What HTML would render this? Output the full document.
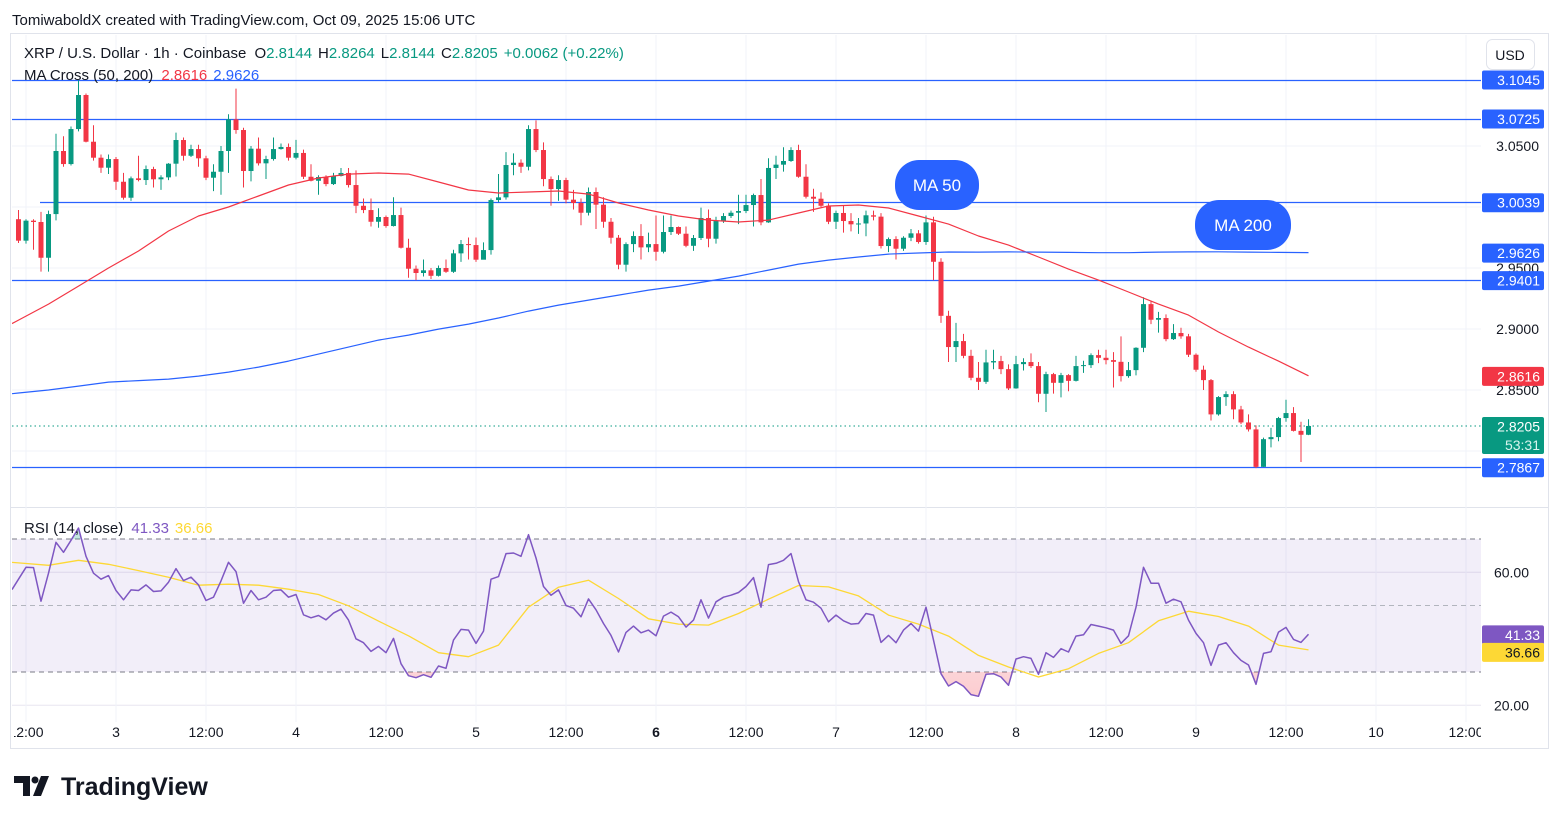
<!DOCTYPE html>
<html><head><meta charset="utf-8"><style>
html,body{margin:0;padding:0;background:#fff;}
svg{display:block;font-family:"Liberation Sans",sans-serif;}
</style></head><body>
<svg id="chart" width="1561" height="824" viewBox="0 0 1561 824">
<defs>
<clipPath id="pc"><rect x="12" y="35" width="1469" height="471"/></clipPath>
<clipPath id="rc"><rect x="12" y="508" width="1469" height="214"/></clipPath>
<clipPath id="below30"><rect x="12" y="672" width="1469" height="50"/></clipPath>
<clipPath id="above70"><rect x="12" y="508" width="1469" height="31"/></clipPath>
<linearGradient id="pink" x1="0" y1="0" x2="0" y2="1"><stop offset="0" stop-color="#f23645" stop-opacity="0"/><stop offset="1" stop-color="#f23645" stop-opacity="0.25"/></linearGradient>
<linearGradient id="greenf" x1="0" y1="1" x2="0" y2="0"><stop offset="0" stop-color="#089981" stop-opacity="0"/><stop offset="1" stop-color="#089981" stop-opacity="0.25"/></linearGradient>
</defs>
<rect x="0" y="0" width="1561" height="824" fill="#fff"/>
<text x="12" y="25" font-size="15" fill="#131722">TomiwaboldX created with TradingView.com, Oct 09, 2025 15:06 UTC</text>
<rect x="10.5" y="33.5" width="1538" height="715" fill="none" stroke="#e0e3eb"/>
<line x1="11" y1="507.5" x2="1548" y2="507.5" stroke="#e0e3eb"/>
<g id="grid"></g>
<g id="hlines"></g>
<rect x="12" y="539" width="1469" height="133" fill="#7e57c2" fill-opacity="0.1"/>
<g id="rsiBand"></g>
<g id="candles" clip-path="url(#pc)"></g>
<g id="mas" clip-path="url(#pc)"></g>
<g id="rsi" clip-path="url(#rc)"></g>
<g id="axes"></g>
<g>
<rect x="895" y="160" width="84" height="50" rx="24" fill="#2962ff"/>
<text x="937" y="191" font-size="17" fill="#fff" text-anchor="middle">MA 50</text></g>
<g>
<rect x="1195" y="200" width="96" height="50" rx="24" fill="#2962ff"/>
<text x="1243" y="231" font-size="17" fill="#fff" text-anchor="middle">MA 200</text></g>
<text x="24" y="58" font-size="15" fill="#131722">XRP / U.S. Dollar · 1h · Coinbase <tspan dx="4">O</tspan><tspan fill="#089981">2.8144</tspan><tspan dx="6">H</tspan><tspan fill="#089981">2.8264</tspan><tspan dx="6">L</tspan><tspan fill="#089981">2.8144</tspan><tspan dx="6">C</tspan><tspan fill="#089981">2.8205</tspan><tspan dx="6" fill="#089981">+0.0062 (+0.22%)</tspan></text>
<text x="24" y="80" font-size="15" fill="#131722">MA Cross (50, 200) <tspan dx="4" fill="#f23645">2.8616</tspan><tspan dx="6" fill="#2962ff">2.9626</tspan></text>
<text x="24" y="533" font-size="15" fill="#131722">RSI (14, close) <tspan dx="4" fill="#7e57c2">41.33</tspan><tspan dx="6" fill="#fdd835">36.66</tspan></text>
<g><rect x="1486.5" y="39.5" width="48" height="30" rx="6" fill="#fff" stroke="#e0e3eb"/><text x="1510" y="60" font-size="14" fill="#131722" text-anchor="middle">USD</text></g>
<g>
<path d="M14 776h16v20h-7v-13h-9z M33 796l8-20h8l-8 20z" fill="#131722"/>
<circle cx="35" cy="780" r="3.5" fill="#131722"/>
<text x="61" y="795" font-size="25" font-weight="bold" fill="#131722">TradingView</text></g>
</svg>
<script>
// ---- data ----
const closes=[2.9724,2.9888,2.9877,2.9584,2.9942,3.0459,3.0352,3.0639,3.0918,3.0535,3.0404,3.0322,3.0393,3.0207,3.0076,3.0235,3.0221,3.0311,3.0227,3.0243,3.0355,3.0549,3.042,3.0475,3.0399,3.024,3.0289,3.0459,3.0719,3.0631,3.0295,3.0478,3.0358,3.0393,3.0475,3.0492,3.0404,3.0443,3.0248,3.0215,3.0246,3.0188,3.0254,3.0279,3.018,3.001,2.9975,2.9879,2.9918,2.9844,2.9934,2.9666,2.9494,2.9459,2.9481,2.9436,2.95,2.9469,2.962,2.9696,2.9688,2.9568,2.9647,3.0057,3.0079,3.0344,3.0363,3.033,3.0639,3.0467,3.0229,3.0147,3.0221,3.006,3.0033,2.9953,3.0123,3.0019,2.9879,2.9748,2.9527,2.9696,2.9762,2.9669,2.9696,2.9633,2.9795,2.9836,2.9781,2.9682,2.9746,2.991,2.974,2.9885,2.9926,2.9953,2.9967,3.0016,3.0098,2.9874,3.032,3.0347,3.0377,3.0467,3.0248,3.0084,3.0068,3.001,2.9879,2.9951,2.9885,2.9858,2.9865,2.9932,2.9921,2.968,2.9737,2.9658,2.9748,2.9784,2.9713,2.9874,2.9551,2.9108,2.8852,2.8901,2.878,2.86,2.8567,2.8726,2.8737,2.8671,2.8513,2.8712,2.8729,2.8696,2.8469,2.863,2.8559,2.8622,2.8575,2.8696,2.8704,2.8786,2.8764,2.8745,2.8731,2.8614,2.8663,2.8846,2.9204,2.9076,2.909,2.8917,2.8967,2.894,2.8789,2.8666,2.8581,2.83,2.8442,2.8466,2.8341,2.8234,2.8177,2.787,2.8097,2.8114,2.827,2.8311,2.8165,2.8133,2.8205];
const firstOpen=2.990;
const highs=[2.9975,2.990,2.990,2.996,2.997,3.060,3.058,3.066,3.104,3.093,3.067,3.043,3.043,3.041,3.028,3.025,3.042,3.034,3.033,3.026,3.036,3.061,3.057,3.051,3.051,3.042,3.035,3.050,3.076,3.097,3.065,3.050,3.057,3.042,3.057,3.052,3.052,3.055,3.047,3.035,3.026,3.026,3.028,3.032,3.032,3.030,3.007,3.007,2.999,2.993,3.008,2.9995,2.974,2.952,2.957,2.950,2.952,2.957,2.965,2.973,2.975,2.975,2.971,3.007,3.027,3.045,3.044,3.039,3.067,3.071,3.053,3.025,3.026,3.024,3.014,3.007,3.016,3.016,3.008,2.991,2.977,2.971,2.980,2.986,2.979,2.993,2.993,2.993,2.984,2.984,2.977,2.9995,2.998,2.992,2.995,2.997,3.010,3.010,3.011,3.023,3.040,3.042,3.049,3.049,3.051,3.035,3.015,3.012,3.003,2.997,3.001,2.995,2.991,2.997,2.997,2.995,2.975,2.976,2.976,2.982,2.981,2.993,2.992,2.958,2.915,2.905,2.896,2.883,2.873,2.883,2.883,2.878,2.871,2.878,2.876,2.880,2.873,2.865,2.864,2.864,2.863,2.878,2.874,2.880,2.883,2.883,2.881,2.894,2.873,2.885,2.926,2.923,2.914,2.912,2.904,2.901,2.896,2.880,2.870,2.859,2.845,2.849,2.849,2.837,2.830,2.821,2.811,2.819,2.828,2.842,2.836,2.824,2.826];
const lows=[2.9705,2.970,2.965,2.947,2.947,2.989,3.033,3.034,3.062,3.053,3.038,3.028,3.027,3.014,3.006,3.005,3.021,3.018,3.016,3.014,3.022,3.025,3.038,3.041,3.033,3.022,3.013,3.010,3.028,3.060,3.016,3.021,3.034,3.023,3.038,3.047,3.038,3.039,3.023,3.021,3.010,3.017,3.018,3.025,3.016,2.995,2.995,2.984,2.983,2.983,2.984,2.966,2.942,2.940,2.943,2.941,2.943,2.946,2.946,2.955,2.957,2.955,2.957,2.961,3.004,3.006,3.026,3.028,3.030,3.045,3.017,3.001,3.005,3.003,2.998,2.985,2.993,2.982,2.983,2.970,2.949,2.947,2.963,2.957,2.963,2.956,2.962,2.977,2.977,2.967,2.964,2.973,2.967,2.970,2.987,2.991,2.986,2.995,2.984,2.985,2.987,3.023,3.029,3.037,3.024,3.007,2.996,3.000,2.986,2.982,2.979,2.980,2.978,2.976,2.989,2.966,2.963,2.957,2.964,2.972,2.970,2.969,2.940,2.905,2.873,2.873,2.876,2.858,2.850,2.855,2.867,2.863,2.850,2.851,2.866,2.868,2.840,2.832,2.847,2.844,2.849,2.857,2.864,2.868,2.872,2.871,2.852,2.857,2.860,2.862,2.881,2.904,2.897,2.890,2.891,2.892,2.877,2.865,2.850,2.825,2.829,2.837,2.826,2.822,2.816,2.786,2.787,2.803,2.808,2.824,2.816,2.791,2.813];
// MA values sampled every 4 candles
const ma50=[2.9073,2.9204,2.9352,2.950,2.9639,2.9803,2.9926,3.000,3.009,3.018,3.0238,3.027,3.0279,3.027,3.0205,3.0139,3.0115,3.0123,3.0131,3.0106,3.0033,2.9975,2.9926,2.9893,2.9877,2.9893,2.9951,3.0008,3.0016,2.9992,2.9926,2.986,2.9762,2.9688,2.959,2.9491,2.9401,2.9303,2.9204,2.9114,2.8975,2.8852,2.8737,2.8616];
const ma200=[2.8475,2.850,2.8532,2.8565,2.8577,2.8589,2.8614,2.8647,2.8688,2.8737,2.8794,2.8852,2.8909,2.895,2.8999,2.904,2.909,2.9147,2.9196,2.9237,2.9278,2.9319,2.9352,2.9393,2.9434,2.9483,2.9532,2.9565,2.959,2.9614,2.9623,2.9631,2.963,2.9632,2.963,2.9628,2.9625,2.9625,2.963,2.9632,2.9633,2.963,2.9628,2.9626];
const rsiVals=[57.9,61.5,61.4,51.3,59.7,69.0,66.0,69.6,73.3,64.8,59.7,57.9,59.0,54.5,51.7,54.7,54.5,56.2,54.2,54.4,57.0,61.1,57.5,58.5,56.2,51.5,52.5,57.4,63.0,60.2,50.7,54.5,51.7,52.5,54.5,54.7,52.5,53.3,47.2,46.3,47.0,45.7,47.7,48.9,45.6,40.0,38.8,36.2,37.7,35.8,40.1,32.5,28.9,28.3,29.2,28.4,31.8,31.1,39.6,42.8,42.6,38.6,42.3,57.9,58.7,65.6,65.8,64.8,71.3,64.3,55.7,53.1,54.7,50.0,49.2,46.6,52.0,48.7,44.6,41.0,36.0,41.9,43.8,41.8,42.6,40.9,46.8,48.0,46.6,43.5,45.6,51.7,46.2,51.1,52.5,53.1,53.9,55.7,58.4,49.5,62.3,62.7,63.6,65.6,57.2,51.7,51.0,49.2,45.1,47.1,45.4,44.4,44.6,47.6,47.1,38.9,41.0,38.8,42.6,44.6,42.3,49.5,39.6,29.5,25.8,27.1,25.7,23.2,22.7,29.3,29.5,28.5,26.0,33.9,34.6,34.1,29.3,35.8,34.4,37.0,36.0,40.8,41.2,44.3,43.8,43.3,42.6,38.6,40.9,49.5,61.5,56.7,56.7,50.7,51.9,51.1,45.6,41.6,38.8,32.0,38.1,38.8,35.8,33.5,32.1,26.3,35.6,36.1,42.0,43.4,39.8,38.9,41.33];
const rsiMa=[62.8,62.1,63.6,62.4,60.5,58.5,56.1,56.4,56.1,54.9,53.3,49.9,45.3,40.9,35.8,34.6,38.1,49.5,55.5,57.6,52.1,46.0,44.4,44.1,47.6,51.9,56.0,55.6,52.9,47.1,44.4,40.8,35.0,31.5,28.5,31.0,35.6,38.8,45.4,48.3,46.7,43.8,38.1,36.66];
const levels=[3.1045,3.0725,3.0039,2.9401,2.7867];
const priceTicks=[3.05,2.95,2.90,2.85];
const rsiTicks=[60,20];
const timeLabels=["12:00","3","12:00","4","12:00","5","12:00","6","12:00","7","12:00","8","12:00","9","12:00","10","12:00"];
// ---- scales ----
const NS="http://www.w3.org/2000/svg";
const X0=18.5,STEP=7.5,MA_STEP=4,LEFT=12;
const xi=i=>X0+STEP*i;
const yP=p=>146+(3.05-p)*1220;
const yR=r=>539+(70-r)*3.325;
function mk(tag,attrs,parent){const e=document.createElementNS(NS,tag);for(const k in attrs)e.setAttribute(k,attrs[k]);parent.appendChild(e);return e;}
const G=id=>document.getElementById(id);
// grid
const grid=G('grid');
[3.05,3.0,2.95,2.90,2.85,2.80].forEach(p=>{const l=mk('line',{x1:12,x2:1481,y1:yP(p),y2:yP(p),stroke:'#f0f3fa'},grid);});
[60,20].forEach(r=>{const l=mk('line',{x1:12,x2:1481,y1:yR(r),y2:yR(r),stroke:'#e8e6f0'},grid);});
timeLabels.forEach((t,k)=>{const x=26+90*k;const l=mk('line',{x1:x,x2:x,y1:35,y2:722,stroke:'#f0f3fa'},grid);});
// levels
const hl=G('hlines');
levels.forEach((p,k)=>{const l=mk('line',{x1:k==2?40:12,x2:1481,y1:Math.round(yP(p))+0.5,y2:Math.round(yP(p))+0.5,stroke:'#2962ff','stroke-width':1.2},hl);});
const cur=mk('line',{x1:12,x2:1481,y1:yP(closes[closes.length-1]),y2:yP(closes[closes.length-1]),stroke:'#089981','stroke-dasharray':'1.5 3'},hl);


// rsi bands
const rb=G('rsiBand');
[70,50,30].forEach(r=>{const l=mk('line',{x1:12,x2:1481,y1:yR(r),y2:yR(r),stroke:r==50?'#b2b5be':'#787b86','stroke-dasharray':'5 4'},rb);});
// candles
const cg=G('candles');
closes.forEach((c,i)=>{
 const o=i?closes[i-1]:firstOpen;const up=c>=o;const col=up?'#089981':'#f23645';const x=xi(i);
 const g=mk('g',{},cg);
 
 
 mk('line',{x1:x,x2:x,y1:yP(highs[i]),y2:yP(lows[i]),stroke:col,'stroke-width':1},g);
 const t=yP(Math.max(o,c)),b=yP(Math.min(o,c));
 mk('rect',{x:x-2.5,y:t,width:5,height:Math.max(1,b-t),fill:col},g);
});
// polyline helper; extends first segment to the left pane edge
function pl(vals,step,fy,col,w,par,name){
 const xs=vals.map((v,k)=>xi(k*step)),ys=vals.map(v=>fy(v));
 const sl=(ys[1]-ys[0])/(xs[1]-xs[0]);
 const y0=ys[0]-sl*(xs[0]-LEFT);
 const pts=[LEFT.toFixed(1)+','+y0.toFixed(1)].concat(xs.map((x,k)=>x.toFixed(1)+','+ys[k].toFixed(1))).join(' ');
 const e=mk('polyline',{points:pts,fill:'none',stroke:col,'stroke-width':w,'stroke-linejoin':'round'},par);
 
 
 return pts;}
const mg=G('mas');
pl(ma50,MA_STEP,yP,'#f23645',1.2,mg,'ma50-line');
pl(ma200,MA_STEP,yP,'#2962ff',1.2,mg,'ma200-line');
// RSI
const rg=G('rsi');
const rpts=rsiVals.map((v,i)=>xi(i).toFixed(1)+','+yR(v).toFixed(1)).join(' ');
const f1=mk('polygon',{points:xi(0)+','+yR(30)+' '+rpts+' '+xi(rsiVals.length-1)+','+yR(30),fill:'url(#pink)','clip-path':'url(#below30)'},rg);


const f2=mk('polygon',{points:xi(0)+','+yR(70)+' '+rpts+' '+xi(rsiVals.length-1)+','+yR(70),fill:'url(#greenf)','clip-path':'url(#above70)'},rg);


pl(rsiMa,MA_STEP,yR,'#fdd835',1.3,rg,'rsi-ma-line');
pl(rsiVals,1,yR,'#7e57c2',1.5,rg,'rsi-line');
// axes
const ax=G('axes');
function lab(x,y,txt,fill,size,anchor,name){const t=mk('text',{x:x,y:y,'font-size':size||14,fill:fill||'#131722','text-anchor':anchor||'start'},ax);t.textContent=txt;return t;}
priceTicks.forEach(p=>lab(1539,yP(p)+5,p.toFixed(4),'#131722',14,'end','price-tick-label'));
rsiTicks.forEach(r=>lab(1529,yR(r)+5,r.toFixed(2),'#131722',14,'end','rsi-tick-label'));
const tclip=mk('clipPath',{id:'tc'},ax);mk('rect',{x:14,y:715,width:1467,height:25},tclip);
timeLabels.forEach((t,k)=>{const e=lab(26+90*k,737,t,'#131722',14,'middle','time-tick-label');e.setAttribute('clip-path','url(#tc)');if(t==='6')e.setAttribute('font-weight','bold');});
function badge(y,txt,bg,fg,name,h){const g=mk('g',{},ax);mk('rect',{x:1482,y:y-9,width:62,height:h||19,rx:2,fill:bg},g);const t=mk('text',{x:1540,y:y+5.5,'font-size':14,fill:fg,'text-anchor':'end'},g);t.textContent=txt;return g;}
levels.forEach(p=>badge(yP(p),p.toFixed(4),'#2962ff','#fff','level-price-badge'));
badge(yP(ma200[ma200.length-1]),ma200[ma200.length-1].toFixed(4),'#2962ff','#fff','ma200-badge');
badge(yP(ma50[ma50.length-1]),ma50[ma50.length-1].toFixed(4),'#f23645','#fff','ma50-badge');
const cb=badge(yP(closes[closes.length-1]),closes[closes.length-1].toFixed(4),'#089981','#fff','current-price-badge',37);
const ct=mk('text',{x:1540,y:yP(closes[closes.length-1])+24,'font-size':14,fill:'#d8f5ee','text-anchor':'end'},cb);ct.textContent='53:31';
badge(yR(rsiVals[rsiVals.length-1]),rsiVals[rsiVals.length-1].toFixed(2),'#7e57c2','#fff','rsi-value-badge');
badge(yR(rsiMa[rsiMa.length-1])+2,rsiMa[rsiMa.length-1].toFixed(2),'#fdd835','#131722','rsi-ma-value-badge');
</script>
</body></html>
